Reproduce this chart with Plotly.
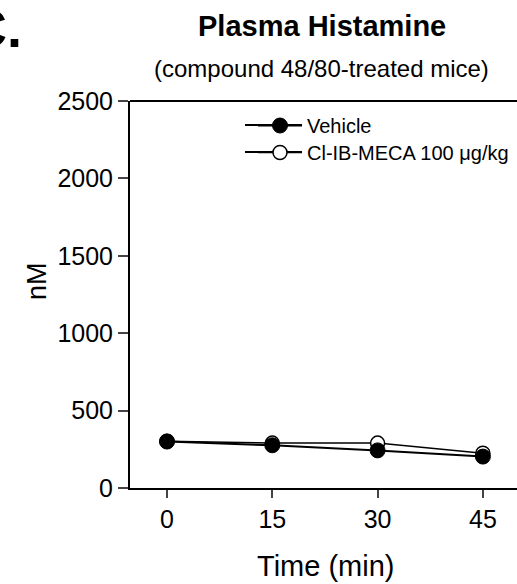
import plotly.graph_objects as go

time_min = [0, 15, 30, 45]
vehicle = [300, 276, 243, 203]
clib_meca = [302, 290, 290, 225]
x_ticks = [0, 15, 30, 45]
y_ticks = [0, 500, 1000, 1500, 2000, 2500]

font = "Liberation Sans, Arial, sans-serif"

W, H = 517, 584
L, R, T, B = 130, 0, 101, 96
PW, PH = W - L - R, H - T - B


def px_x(x):
    return (x - L) / PW


def px_y(y):
    return (H - B - y) / PH


fig = go.Figure()
fig.add_trace(go.Scatter(
    x=time_min, y=clib_meca, name="Cl-IB-MECA 100 μg/kg", mode="lines+markers",
    legend="legend2",
    line=dict(color="black", width=1.5),
    marker=dict(symbol="circle", size=14, color="white", line=dict(color="black", width=1.5)),
))
fig.add_trace(go.Scatter(
    x=time_min, y=vehicle, name="Vehicle", mode="lines+markers",
    legend="legend",
    line=dict(color="black", width=2),
    marker=dict(symbol="circle", size=15, color="black", line=dict(color="black", width=1)),
))

leg_common = dict(xanchor="left", yanchor="top", font=dict(size=20, family=font),
                  bgcolor="rgba(0,0,0,0)", itemwidth=44, tracegroupgap=0)

fig.update_layout(
    width=W, height=H,
    margin=dict(l=L, r=R, t=T, b=B, autoexpand=False),
    plot_bgcolor="white", paper_bgcolor="white",
    font=dict(family=font, color="black"),
    showlegend=True,
    legend=dict(x=px_x(253), y=px_y(106), **leg_common),
    legend2=dict(x=px_x(253), y=px_y(133), **leg_common),
    xaxis=dict(range=[-5.27, 49.86], tickvals=x_ticks, ticks="outside", ticklen=8,
               tickwidth=2, showline=True, linewidth=2, linecolor="black",
               showgrid=False, zeroline=False, tickfont=dict(size=25)),
    yaxis=dict(range=[0, 2500], tickvals=y_ticks, ticks="outside", ticklen=10,
               tickwidth=2, showline=True, linewidth=2, linecolor="black",
               showgrid=False, zeroline=False, tickfont=dict(size=25)),
)

fig.add_shape(type="line", xref="paper", yref="paper", x0=0, x1=1, y0=1, y1=1,
              line=dict(color="black", width=2))

# extend legend key lines to the reference's longer style
for row_y in (125, 152):
    fig.add_shape(type="line", xref="paper", yref="paper",
                  x0=px_x(245), x1=px_x(302), y0=px_y(row_y), y1=px_y(row_y),
                  line=dict(color="black", width=2), layer="below")

annots = [
    ("<b>Plasma Histamine</b>", 322, 26, 29, "center", 0),
    ("(compound 48/80-treated mice)", 321, 68, 24, "center", 0),
    ("Time (min)", 325, 566, 29, "center", 0),
    ("nM", 37, 281, 27, "center", -90),
]
for text, x, y, size, anchor, ang in annots:
    fig.add_annotation(text=text, xref="paper", yref="paper", x=px_x(x), y=px_y(y),
                       xanchor=anchor, yanchor="middle", showarrow=False, textangle=ang,
                       font=dict(size=size, family=font, color="black"))

fig.add_annotation(text="<b>C.</b>", xref="paper", yref="paper", x=px_x(24), y=px_y(28),
                   xanchor="right", yanchor="middle", showarrow=False,
                   font=dict(size=54, family=font, color="black"))

fig.write_html("out.html")
